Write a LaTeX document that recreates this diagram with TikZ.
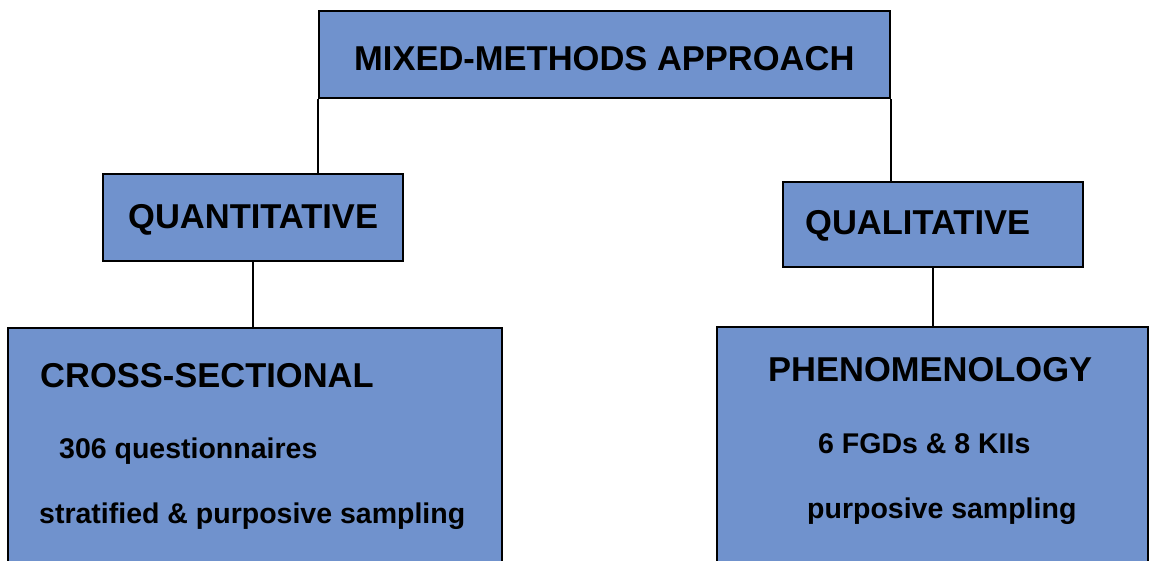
\documentclass[tikz,border=0pt]{standalone}
\usepackage{fontspec}
\setmainfont{Liberation Sans}
\definecolor{boxblue}{RGB}{112,146,205}
\begin{document}
\begin{tikzpicture}[x=1pt,y=-1pt,
  box/.style={draw=black,line width=2pt,fill=boxblue,rectangle,inner sep=0pt,anchor=north west},
  link/.style={draw=black,line width=2pt},
  head/.style={anchor=base west,inner sep=0pt,font=\bfseries\fontsize{34.5}{40}\selectfont},
  body/.style={anchor=base west,inner sep=0pt,font=\bfseries\fontsize{28.5}{34}\selectfont}]
\clip (0,0) rectangle (1151,560);
\useasboundingbox (0,0) rectangle (1151,560);
\fill[white] (0,0) rectangle (1151,560);
% boxes
\node[box,minimum width=571pt,minimum height=87pt] (top) at (318,10) {};
\node[box,minimum width=300pt,minimum height=87pt] (quant) at (102,173) {};
\node[box,minimum width=300pt,minimum height=85pt] (qual) at (782,181) {};
\node[box,minimum width=494pt,minimum height=260pt] (cross) at (7,327) {};
\node[box,minimum width=431pt,minimum height=260pt] (phen) at (716,326) {};
% connectors
\draw[link] (top.south west) -- (top.south west |- quant.north);
\draw[link] (top.south east) -- (top.south east |- qual.north);
\draw[link] (quant.south) -- (quant.south |- cross.north);
\draw[link] (qual.south) -- (qual.south |- phen.north);
% texts
\node[head] (t1) at (354,70) {MIXED-METHODS APPROACH};
\node[head] (t2) at (128,228) {QUANTITATIVE};
\node[head] (t3) at (805,234) {QUALITATIVE};
\node[head] (t4) at (40,387) {CROSS-SECTIONAL};
\node[body] (t5) at (59,458) {306 questionnaires};
\node[body] (t6) at (39,523) {stratified \& purposive sampling};
\node[head] (t7) at (768,381) {PHENOMENOLOGY};
\node[body] (t8) at (818,453) {6 FGDs \& 8 KIIs};
\node[body] (t9) at (807,518) {purposive sampling};
\end{tikzpicture}
\end{document}
